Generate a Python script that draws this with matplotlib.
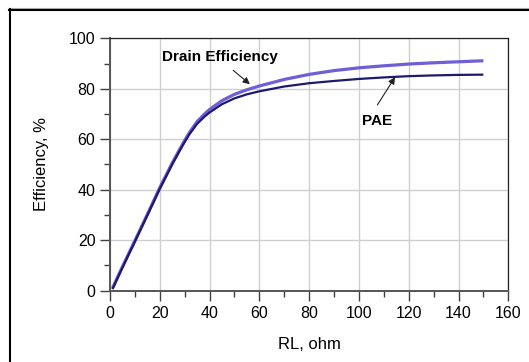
import numpy as np
import matplotlib.pyplot as plt
from matplotlib.lines import Line2D

plt.rcParams['font.family'] = ['Liberation Sans', 'DejaVu Sans']

# load resistance sweep, ohm
rl = [1, 5, 10, 15, 20, 25, 28, 30, 32, 35, 38, 40, 45, 50, 55, 60,
      70, 80, 90, 100, 110, 120, 130, 140, 150]
# drain efficiency, %
de = [1.0, 9.5, 19.8, 30.2, 40.8, 50.6, 56.0, 59.5, 62.8, 67.0, 70.0, 71.8, 75.3, 77.8, 79.6, 81.1,
      83.7, 85.7, 87.2, 88.3, 89.1, 89.8, 90.3, 90.7, 91.1]
# power added efficiency, %
pae = [0.6, 9.1, 19.4, 29.8, 40.3, 50.0, 55.4, 58.9, 62.1, 66.1, 69.0, 70.6, 73.9, 76.2, 77.8, 79.0,
       80.9, 82.2, 83.1, 83.9, 84.5, 85.0, 85.3, 85.5, 85.6]

fig = plt.figure(figsize=(5.29, 3.62), dpi=100)
ax = fig.add_axes([0.2079, 0.1970, 0.7530, 0.6972])

ax.plot(rl, de, color='#6f5fd6', lw=2.3, solid_capstyle='butt', zorder=3)
ax.plot(rl, pae, color='#1c1a6e', lw=1.6, solid_capstyle='butt', zorder=4)

ax.set_xlim(0, 160)
ax.set_ylim(0, 100)
ax.set_xticks(np.arange(0, 161, 20))
ax.set_xticks(np.arange(10, 160, 20), minor=True)
ax.set_yticks(np.arange(0, 101, 20))
ax.set_yticks(np.arange(10, 100, 20), minor=True)
ax.grid(True, which='major', color='#cfcfcf', lw=1.0)
ax.set_axisbelow(True)

ax.tick_params(which='major', length=7, width=1, color='#404040', labelsize=11.5)
ax.tick_params(which='minor', length=4, width=1, color='#404040')
ax.tick_params(axis='x', pad=4)
ax.tick_params(axis='y', pad=3.5)

for side in ['bottom', 'left']:
    ax.spines[side].set_color('#555555')
    ax.spines[side].set_linewidth(1.4)
for side in ['top', 'right']:
    ax.spines[side].set_color('#222222')
    ax.spines[side].set_linewidth(0.9)

ax.set_xlabel('RL, ohm', fontsize=12)
ax.set_ylabel('Efficiency, %', fontsize=12)
ax.xaxis.set_label_coords(0.5, -0.183)
ax.yaxis.set_label_coords(-0.153, 0.5)

# curve labels with pointer arrows
arrow = dict(arrowstyle='-|>', color='#222222', lw=0.8, mutation_scale=10,
             shrinkA=0, shrinkB=0)
ax.text(44.0, 92.7, 'Drain Efficiency', fontsize=11, fontweight='bold',
        ha='center', va='center')
ax.annotate('', xy=(56.2, 81.8), xytext=(49.5, 87.3), arrowprops=arrow)
ax.text(107.1, 67.2, 'PAE', fontsize=11, fontweight='bold',
        ha='center', va='center')
ax.annotate('', xy=(114.5, 84.6), xytext=(107.4, 73.6), arrowprops=arrow)

# outer frame lines along the top and left edges
fig.add_artist(Line2D([9 / 529, 1], [1 - 8 / 362] * 2, color='#b0b0b0', lw=0.8))
fig.add_artist(Line2D([9 / 529, 1], [1 - 10 / 362] * 2, color='black', lw=1.5))
fig.add_artist(Line2D([9.5 / 529] * 2, [0, 1 - 9 / 362], color='black', lw=1.5))

fig.savefig('out.png', dpi=100)
